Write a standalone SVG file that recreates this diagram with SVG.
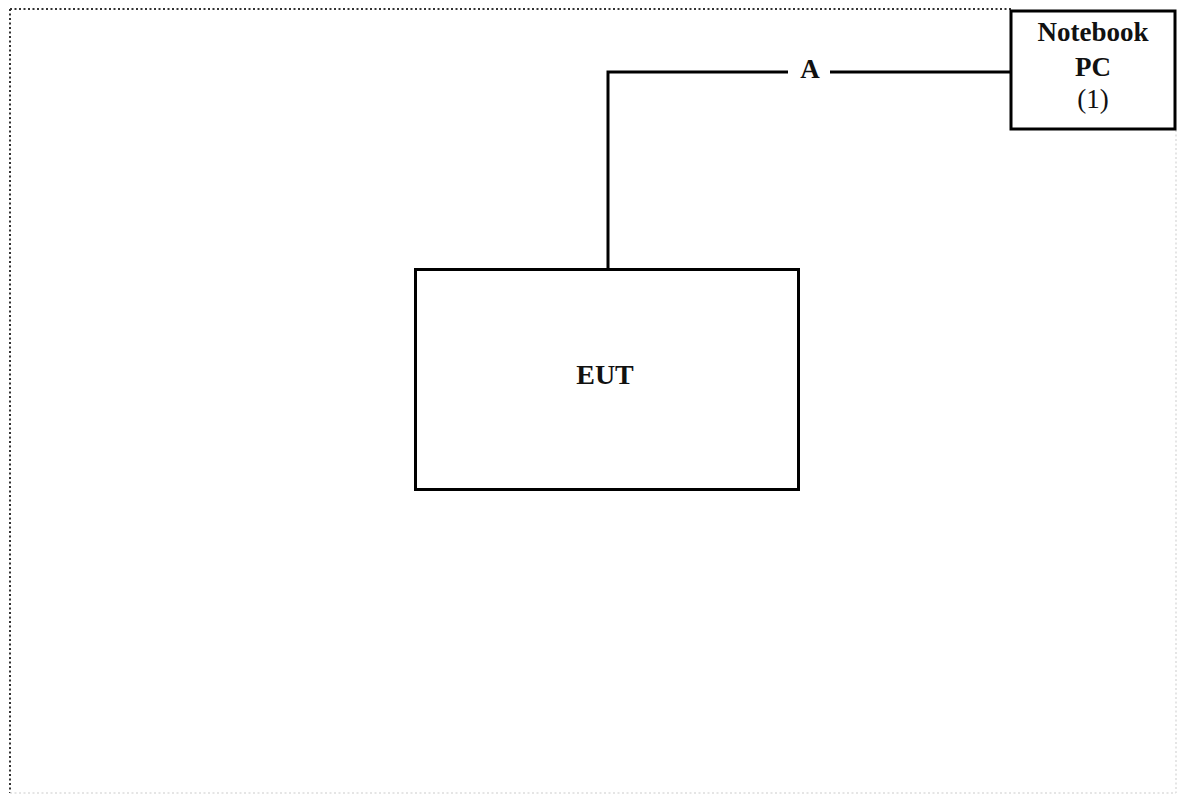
<svg xmlns="http://www.w3.org/2000/svg" width="1178" height="795" viewBox="0 0 1178 795">
<style>
.box{fill:#fff;stroke:#000;stroke-width:3}
.wire{fill:none;stroke:#000;stroke-width:3}
.t{font-family:"Liberation Serif",serif;font-weight:bold;font-size:27px;text-anchor:middle;fill:#111}
.n{font-weight:normal}
</style>
<rect x="0" y="0" width="1178" height="795" fill="#fff"/>
<g id="frame">
<line x1="10" y1="9" x2="1011" y2="9" stroke="#333" stroke-width="2" stroke-dasharray="2,2.5"/>
<line x1="10" y1="9" x2="10" y2="793" stroke="#333" stroke-width="2" stroke-dasharray="2,2.5"/>
<line x1="10" y1="793" x2="1176" y2="793" stroke="#ddd" stroke-width="1.5" stroke-dasharray="2,2.5"/>
<line x1="1176" y1="130" x2="1176" y2="793" stroke="#ddd" stroke-width="1.5" stroke-dasharray="2,2.5"/>
</g>
<g id="connectors">
<polyline class="wire" points="608,269 608,72 788,72"/>
<line class="wire" x1="830" y1="72" x2="1011" y2="72"/>
<text class="t" x="810" y="78" font-size="24">A</text>
</g>
<g id="notebook">
<rect class="box" x="1011" y="11" width="164" height="118"/>
<text class="t" x="1093" y="41">Notebook</text>
<text class="t" x="1093" y="76">PC</text>
<text class="t n" x="1093" y="108">(1)</text>
</g>
<g id="eut">
<rect class="box" x="415.5" y="269.5" width="383" height="220"/>
<text class="t" x="605" y="384" style="font-size:28px">EUT</text>
</g>
</svg>
